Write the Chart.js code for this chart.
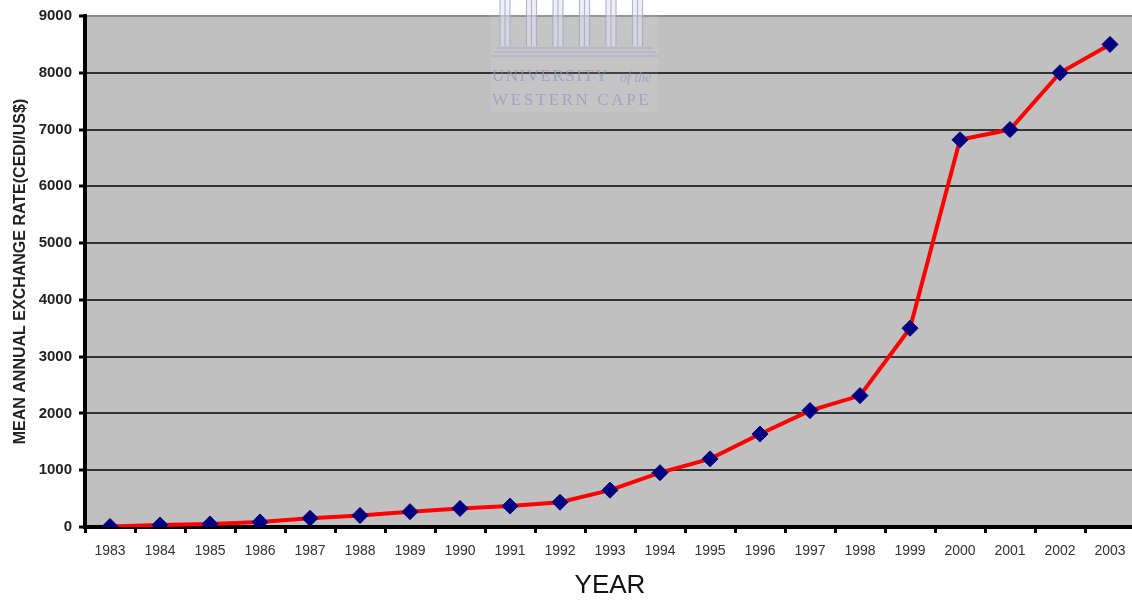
<!DOCTYPE html>
<html>
<head>
<meta charset="utf-8">
<script src="https://cdn.jsdelivr.net/npm/chart.js@4.4.1/dist/chart.umd.min.js"></script>
<style>
  html, body { margin: 0; padding: 0; background: #fff; overflow: hidden; }
  #wrap { width: 1144px; height: 601px; position: relative; }
</style>
</head>
<body>
<div id="wrap"><canvas id="rate"></canvas></div>
<script>
// chart data
var years = ['1983', '1984', '1985', '1986', '1987', '1988', '1989', '1990', '1991', '1992', '1993',
             '1994', '1995', '1996', '1997', '1998', '1999', '2000', '2001', '2002', '2003'];
var rates = [9, 36, 54, 89, 154, 202, 270, 326, 368, 437, 649,
             957, 1200, 1637, 2050, 2314, 3500, 6820, 7000, 8000, 8500];
var yTicks = [0, 1000, 2000, 3000, 4000, 5000, 6000, 7000, 8000, 9000];

// gray plot background
var plotBg = {
    id: 'plotBg',
    beforeDraw: function (chart) {
        var a = chart.chartArea, c = chart.ctx;
        c.save();
        c.fillStyle = '#c0c0c0';
        c.fillRect(a.left, a.top, a.right - a.left, a.bottom - a.top);
        c.restore();
    }
};

// faint university watermark behind the line
var watermark = {
    id: 'watermark',
    beforeDatasetsDraw: function (chart) {
        var c = chart.ctx;
        c.save();
        c.fillStyle = 'rgba(255,255,255,0.08)';
        c.fillRect(491, 0, 167, 112);
        // columns
        c.fillStyle = 'rgba(225,228,240,0.55)';
        c.strokeStyle = 'rgba(165,168,200,0.8)';
        c.lineWidth = 1.2;
        for (var i = 0; i < 6; i++) {
            var x = 505 + i * 26.5;
            c.fillRect(x - 5, 0, 10, 46);
            c.beginPath();
            c.moveTo(x - 5, 0); c.lineTo(x - 5, 46);
            c.moveTo(x + 5, 0); c.lineTo(x + 5, 46);
            c.moveTo(x, 0); c.lineTo(x, 46);
            c.stroke();
        }
        c.beginPath();
        c.moveTo(497, 48); c.lineTo(653, 48);
        c.moveTo(494, 52); c.lineTo(656, 52);
        c.moveTo(491, 56); c.lineTo(659, 56);
        c.stroke();
        // text
        c.fillStyle = 'rgba(145,150,192,0.7)';
        c.textAlign = 'left';
        c.textBaseline = 'middle';
        c.font = '17px "Liberation Serif", serif';
        c.letterSpacing = '1.5px';
        c.fillText('UNIVERSITY', 492, 77);
        c.font = 'italic 14px "Liberation Serif", serif';
        c.letterSpacing = '0px';
        c.fillText('of the', 620, 78);
        c.font = '17px "Liberation Serif", serif';
        c.letterSpacing = '2.6px';
        c.fillText('WESTERN CAPE', 492, 101);
        c.restore();
    }
};

var ctx = document.getElementById('rate').getContext('2d');
var rateChart = new Chart(ctx, {
    type: 'line',
    data: {
        labels: years,
        datasets: [{
            label: 'Exchange rate',
            data: rates,
            borderColor: '#ff0000',
            borderWidth: 4,
            tension: 0,
            pointStyle: 'rectRot',
            pointRadius: 8,
            pointBackgroundColor: '#000080',
            pointBorderColor: '#000080',
            pointBorderWidth: 1
        }]
    },
    options: {
        responsive: true,
        maintainAspectRatio: false,
        animation: false,
        layout: { padding: { top: 14, left: 0, right: 0, bottom: 0 } },
        plugins: { legend: { display: false }, tooltip: { enabled: false } },
        scales: {
            x: {
                offset: true,
                afterFit: function (s) { s.height = 74; },
                grid: {
                    offset: true,
                    drawOnChartArea: false,
                    tickLength: 6,
                    tickWidth: 3,
                    tickColor: '#000'
                },
                border: { color: '#000', width: 4 },
                ticks: {
                    color: '#333',
                    padding: 10,
                    maxRotation: 0,
                    autoSkip: false,
                    font: { family: 'Liberation Sans, Arial', size: 14 }
                },
                title: {
                    display: true,
                    text: 'YEAR',
                    color: '#111',
                    padding: { top: 0, bottom: 0 },
                    font: { family: 'Liberation Sans, Arial', size: 26 }
                }
            },
            y: {
                min: 0,
                max: 9000,
                afterFit: function (s) { s.width = 85; },
                afterBuildTicks: function (s) {
                    s.ticks = yTicks.map(function (v) { return { value: v }; });
                },
                grid: {
                    color: function (c) { return c.tick && c.tick.value === 9000 ? '#8c8c8c' : '#333'; },
                    lineWidth: 2,
                    tickLength: 6,
                    tickWidth: 3,
                    tickColor: '#000'
                },
                border: { color: '#000', width: 4 },
                ticks: {
                    color: '#222',
                    padding: 7,
                    callback: function (v) { return String(v); },
                    font: { family: 'Liberation Sans, Arial', size: 15, weight: 'bold' }
                },
                title: {
                    display: true,
                    text: 'MEAN ANNUAL EXCHANGE RATE(CEDI/US$)',
                    color: '#222',
                    padding: { top: 11, bottom: 0 },
                    font: { family: 'Liberation Sans, Arial', size: 16, weight: 'bold' }
                }
            }
        }
    },
    plugins: [plotBg, watermark]
});
</script>
</body>
</html>
